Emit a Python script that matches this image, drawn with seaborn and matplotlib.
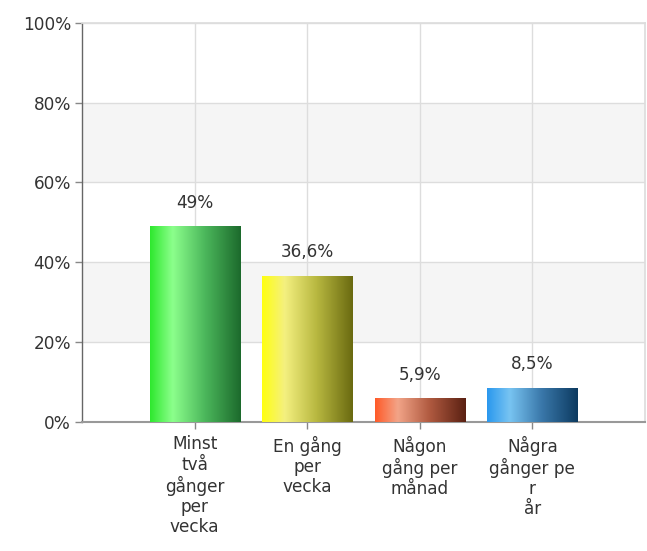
import numpy as np
import pandas as pd
import matplotlib
matplotlib.use("Agg")
import matplotlib.pyplot as plt
import seaborn as sns
from matplotlib.colors import LinearSegmentedColormap

categories = ["Minst\ntvå\ngånger\nper\nvecka", "En gång\nper\nvecka",
              "Någon\ngång per\nmånad", "Några\ngånger pe\nr\når"]
values = [49.0, 36.6, 5.9, 8.5]
value_labels = ["49%", "36,6%", "5,9%", "8,5%"]
y_ticks = [0, 20, 40, 60, 80, 100]
y_tick_labels = ["0%", "20%", "40%", "60%", "80%", "100%"]

gradients = [
    ["#2ee82e", "#8cff8c", "#4cb85c", "#1c6a2c"],
    ["#ffff10", "#f4f080", "#b8b840", "#6a6a10"],
    ["#ff5a28", "#f2a488", "#b05a40", "#5a2012"],
    ["#2a98ee", "#78c4f2", "#3a78aa", "#0c3a60"],
]

sns.set_theme(style="white")
plt.rcParams['font.family'] = ['DejaVu Sans']

FS = 12.2
fig = plt.figure(figsize=(6.47, 5.51), dpi=100)
ax = fig.add_axes([82/647, 1-421.6/551, (645-82)/647, (421.6-23)/551])

df = pd.DataFrame({"cat": categories, "val": values})
sns.barplot(data=df, x="cat", y="val", ax=ax, width=0.8, color="#cccccc",
            saturation=1, zorder=3)
ax.set_xlim(-1, 4)
ax.set_ylim(0, 100)

# alternating background bands
for i in range(5):
    if i % 2 == 1:
        ax.axhspan(y_ticks[i], y_ticks[i+1], color="#f5f5f5", zorder=0, lw=0)

# gradient fills
for patch, cols in zip(ax.patches, gradients):
    x0, y0 = patch.get_x(), patch.get_y()
    w, h = patch.get_width(), patch.get_height()
    cmap = LinearSegmentedColormap.from_list("g", list(zip([0, 0.25, 0.6, 1.0], cols)))
    grad = np.linspace(0, 1, 256).reshape(1, -1)
    ax.imshow(grad, cmap=cmap, aspect="auto", extent=[x0, x0+w, y0, y0+h],
              zorder=4, interpolation="bicubic")
    patch.set_visible(False)

ax.set_xlim(-1, 4)
ax.set_ylim(0, 100)

for i, (v, lab) in enumerate(zip(values, value_labels)):
    ax.text(i, v + 3.6, lab, ha="center", va="bottom", fontsize=FS, color="#333333", zorder=6)

ax.set_yticks(y_ticks)
ax.set_yticklabels(y_tick_labels, fontsize=FS, color="#333333")
ax.set_xticks(range(4))
ax.set_xticklabels(categories, fontsize=FS, color="#333333", linespacing=1.15)
ax.set_xlabel("")
ax.set_ylabel("")

ax.grid(True, axis="both", color="#dddddd", lw=1, zorder=1)
ax.set_axisbelow(True)

ax.tick_params(axis="both", length=5, width=1, color="#888888", direction="out")
ax.tick_params(axis="y", left=True, pad=3)
ax.tick_params(axis="x", bottom=True, pad=5)

for s in ["top", "right"]:
    ax.spines[s].set_visible(True)
    ax.spines[s].set_color("#dddddd")
ax.spines["left"].set_color("#666666")
ax.spines["bottom"].set_color("#999999")
ax.spines["bottom"].set_linewidth(1.5)
ax.spines["left"].set_linewidth(1.0)

fig.savefig("out.png", dpi=100)
